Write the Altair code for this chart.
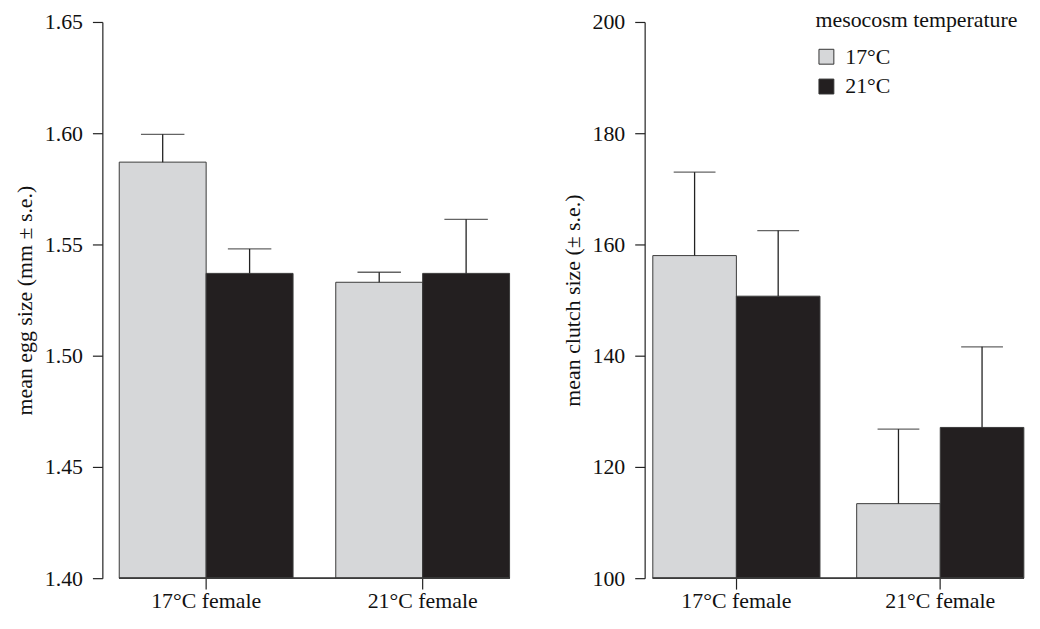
import altair as alt
import pandas as pd

# ---- data ----
groups = ["17°C female", "17°C female", "21°C female", "21°C female"]
temps = ["17°C", "21°C", "17°C", "21°C"]
egg_mean = [1.587, 1.537, 1.533, 1.537]
egg_se = [0.0125, 0.011, 0.0045, 0.0243]
clutch_mean = [158.0, 150.7, 113.4, 127.1]
clutch_se = [15.0, 11.8, 13.4, 14.5]
egg_ticks = [1.40, 1.45, 1.50, 1.55, 1.60, 1.65]
clutch_ticks = [100, 120, 140, 160, 180, 200]
temp_levels = ["17°C", "21°C"]
temp_colors = ["#d6d7d9", "#231f20"]

FONT = "Liberation Serif"
FS = 22

egg = pd.DataFrame({"group": groups, "temp": temps, "mean": egg_mean, "se": egg_se})
egg["top"] = egg["mean"] + egg["se"]
clutch = pd.DataFrame({"group": groups, "temp": temps, "mean": clutch_mean, "se": clutch_se})
clutch["top"] = clutch["mean"] + clutch["se"]

# layout constants (pixels)
H = 560


def panel(df, ticks, ytitle, width, pad_in, pad_out, show_legend):
    step = width / (2 - pad_in + 2 * pad_out)
    bar_start = step * pad_out
    bar_end = width - bar_start
    cap = step * (1 - pad_in) / 4
    xscale = alt.Scale(paddingInner=pad_in, paddingOuter=pad_out)
    x = alt.X("group:N", scale=xscale, sort=["17°C female", "21°C female"],
              axis=alt.Axis(title=None, domain=False, tickSize=11, labelPadding=2,
                            labelAngle=0))
    xo = alt.XOffset("temp:N", scale=alt.Scale(paddingInner=0, paddingOuter=0),
                     sort=temp_levels)
    yscale = alt.Scale(domain=[ticks[0], ticks[-1]], nice=False, zero=False)
    fmt = ".2f" if ticks[-1] < 10 else "d"
    y = alt.Y("mean:Q", scale=yscale,
              axis=alt.Axis(title=ytitle, values=ticks, format=fmt, grid=False,
                            tickSize=10, labelPadding=10, titlePadding=8))
    if show_legend:
        legend = alt.Legend(orient="none", legendX=172, legendY=-12,
                            title="mesocosm temperature", padding=0,
                            titleLimit=400, labelLimit=200,
                            symbolType="square", symbolSize=225,
                            symbolStrokeColor="#333333", symbolStrokeWidth=1,
                            symbolOpacity=1, rowPadding=8, titlePadding=14,
                            labelOffset=8)
    else:
        legend = None
    color = alt.Color("temp:N", scale=alt.Scale(domain=temp_levels, range=temp_colors),
                      legend=legend)
    base = alt.Chart(df)
    bars = base.mark_bar(stroke="#3a3a3a", strokeWidth=1, opacity=1).encode(
        x=x, xOffset=xo, y=y, y2=alt.Y2(datum=ticks[0]), color=color)
    rules = base.mark_rule(color="#222222", strokeWidth=1.3).encode(
        x=x, xOffset=xo, y="mean:Q", y2="top:Q")
    caps = base.mark_tick(color="#222222", thickness=1.3, size=cap,
                          orient="horizontal").encode(
        x=x, xOffset=xo, y="top:Q")
    baseline = base.mark_rule(color="#3a3a3a", strokeWidth=1).encode(
        y=alt.Y(datum=ticks[0]), x=alt.value(bar_start), x2=alt.value(bar_end))
    return alt.layer(bars, rules, caps, baseline).properties(width=width, height=H)


left = panel(egg, egg_ticks, "mean egg size (mm ± s.e.)", 427, 43 / 218, 17 / 218, False)
right = panel(clutch, clutch_ticks, "mean clutch size (± s.e.)", 390, 0.18, 0.04, True)

chart = alt.hconcat(left, right, spacing=35).resolve_scale(
    x="independent", y="independent", xOffset="independent"
).resolve_legend(color="independent").properties(
    padding={"left": 5, "top": 0, "right": 0, "bottom": 0}
).configure_view(stroke=None).configure_axis(
    labelFont=FONT, labelFontSize=FS, labelColor="#111111",
    titleFont=FONT, titleFontSize=FS, titleFontWeight="normal", titleColor="#111111",
    domainColor="#222222", tickColor="#222222", domainWidth=1.2, tickWidth=1.2
).configure_legend(
    labelFont=FONT, labelFontSize=FS, labelColor="#111111",
    titleFont=FONT, titleFontSize=FS, titleFontWeight="normal", titleColor="#111111"
)

chart.save("out.html", embed_options={"renderer": "svg", "actions": False})
